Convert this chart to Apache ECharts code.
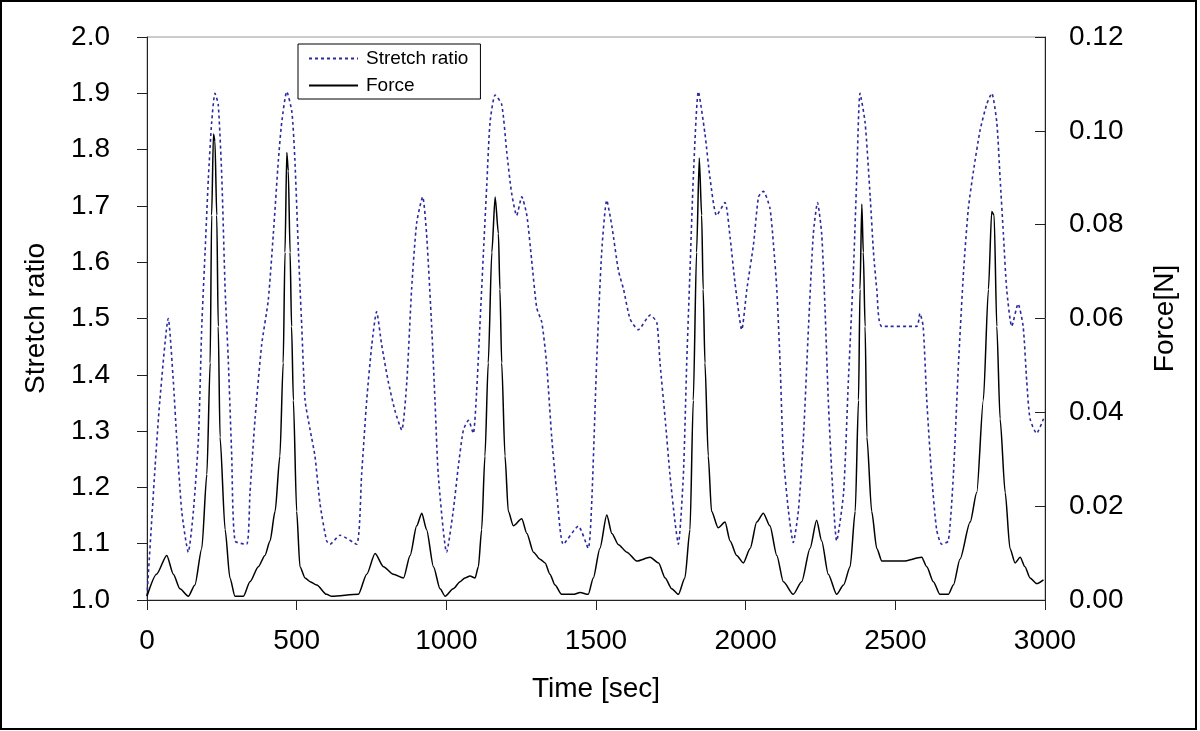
<!DOCTYPE html>
<html>
<head>
<meta charset="utf-8">
<title>Stretch ratio and force</title>
<script src="https://cdn.jsdelivr.net/npm/echarts@6/dist/echarts.min.js"></script>
<style>
  html, body { margin: 0; padding: 0; background: #fff; }
  #chart { width: 1200px; height: 731px; }
</style>
</head>
<body>
<div id="chart"></div>
<script>
// time ticks on the bottom axis
const timeTicks = [0, 500, 1000, 1500, 2000, 2500, 3000]

// stretch ratio (dotted blue)
const stretchTime = [
  0, 27, 43, 71, 88, 99, 116, 138, 155, 172, 183, 194, 205, 216, 227, 238, 250, 261, 272, 283,
  294, 333, 344, 361, 383, 405, 422, 439, 450, 467, 484, 494, 506, 517, 528, 545, 561, 578, 600, 611,
  645, 700, 717, 734, 751, 767, 784, 806, 829, 851, 868, 884, 901, 921, 934, 951, 962, 973, 1001, 1023,
  1040, 1057, 1074, 1090, 1101, 1112, 1124, 1135, 1146, 1163, 1185, 1202, 1218, 1235, 1252, 1269, 1285, 1302, 1319, 1335,
  1352, 1369, 1391, 1441, 1474, 1486, 1502, 1519, 1536, 1553, 1575, 1592, 1614, 1641, 1681, 1703, 1714, 1731, 1747, 1764,
  1775, 1792, 1803, 1814, 1825, 1842, 1864, 1881, 1903, 1931, 1948, 1964, 1987, 2004, 2026, 2043, 2059, 2081, 2093, 2104,
  2115, 2126, 2143, 2159, 2176, 2193, 2210, 2226, 2240, 2254, 2265, 2276, 2288, 2304, 2327, 2343, 2360, 2371, 2382, 2399,
  2416, 2427, 2438, 2455, 2571, 2582, 2593, 2605, 2621, 2638, 2655, 2677, 2694, 2711, 2728, 2744, 2761, 2783, 2805, 2822,
  2839, 2850, 2861, 2872, 2889, 2910, 2927, 2939, 2950, 2972, 2995
]
const stretchVal = [
  1.007, 1.237, 1.355, 1.500, 1.388, 1.289, 1.158, 1.085, 1.158, 1.289, 1.486, 1.618, 1.749, 1.848, 1.900, 1.880, 1.749, 1.552, 1.420, 1.256,
  1.105, 1.099, 1.190, 1.322, 1.453, 1.532, 1.650, 1.782, 1.848, 1.903, 1.867, 1.782, 1.618, 1.486, 1.355, 1.302, 1.256, 1.171, 1.105, 1.099,
  1.115, 1.099, 1.223, 1.355, 1.453, 1.512, 1.453, 1.388, 1.335, 1.302, 1.388, 1.552, 1.670, 1.716, 1.650, 1.486, 1.355, 1.223, 1.085, 1.158,
  1.237, 1.302, 1.319, 1.296, 1.368, 1.486, 1.618, 1.736, 1.848, 1.897, 1.880, 1.795, 1.723, 1.683, 1.716, 1.683, 1.604, 1.519, 1.493, 1.420,
  1.289, 1.190, 1.099, 1.131, 1.092, 1.177, 1.420, 1.618, 1.710, 1.664, 1.585, 1.552, 1.499, 1.480, 1.506, 1.493, 1.420, 1.322, 1.223, 1.138,
  1.099, 1.223, 1.420, 1.585, 1.749, 1.903, 1.828, 1.749, 1.683, 1.706, 1.644, 1.565, 1.480, 1.552, 1.631, 1.716, 1.726, 1.696, 1.631, 1.552,
  1.420, 1.256, 1.158, 1.102, 1.158, 1.289, 1.486, 1.650, 1.706, 1.650, 1.519, 1.355, 1.223, 1.105, 1.190, 1.388, 1.585, 1.749, 1.900, 1.848,
  1.716, 1.618, 1.552, 1.486, 1.486, 1.509, 1.486, 1.355, 1.223, 1.125, 1.099, 1.105, 1.223, 1.420, 1.585, 1.696, 1.762, 1.834, 1.880, 1.900,
  1.848, 1.749, 1.650, 1.552, 1.486, 1.526, 1.486, 1.388, 1.322, 1.296, 1.322
]

// force (solid black)
const forceTime = [
  0, 32, 66, 88, 110, 138, 160, 183, 200, 211, 216, 222, 227, 233, 238, 244, 261, 277, 294, 322,
  344, 372, 394, 411, 428, 444, 455, 461, 467, 472, 478, 483, 489, 500, 511, 528, 545, 567, 600, 617,
  706, 734, 762, 790, 823, 857, 879, 901, 918, 934, 957, 979, 996, 1023, 1046, 1062, 1079, 1096, 1107, 1118,
  1129, 1140, 1152, 1163, 1174, 1179, 1185, 1196, 1207, 1224, 1252, 1269, 1291, 1313, 1330, 1346, 1363, 1385, 1424, 1447,
  1474, 1491, 1513, 1536, 1553, 1575, 1603, 1636, 1681, 1709, 1731, 1753, 1775, 1797, 1814, 1825, 1836, 1845, 1853, 1858,
  1864, 1875, 1886, 1908, 1931, 1948, 1970, 1992, 2015, 2037, 2059, 2081, 2104, 2126, 2159, 2187, 2215, 2237, 2254, 2276,
  2304, 2327, 2349, 2366, 2377, 2382, 2388, 2393, 2399, 2405, 2421, 2438, 2455, 2527, 2588, 2605, 2627, 2649, 2677, 2694,
  2716, 2750, 2772, 2794, 2811, 2822, 2830, 2839, 2850, 2867, 2883, 2900, 2917, 2933, 2950, 2972, 2995
]
const forceVal = [
  0.0008, 0.0055, 0.0095, 0.0055, 0.0024, 0.0008, 0.0032, 0.0110, 0.0268, 0.0505, 0.0820, 0.0993, 0.0978, 0.0820, 0.0583, 0.0347, 0.0150, 0.0047, 0.0008, 0.0008,
  0.0039, 0.0071, 0.0095, 0.0126, 0.0189, 0.0307, 0.0505, 0.0741, 0.0954, 0.0915, 0.0741, 0.0583, 0.0426, 0.0189, 0.0071, 0.0047, 0.0039, 0.0032, 0.0012, 0.0008,
  0.0012, 0.0055, 0.0099, 0.0071, 0.0055, 0.0047, 0.0095, 0.0158, 0.0185, 0.0150, 0.0071, 0.0024, 0.0008, 0.0024, 0.0039, 0.0047, 0.0051, 0.0047, 0.0071, 0.0150,
  0.0307, 0.0505, 0.0741, 0.0859, 0.0781, 0.0662, 0.0505, 0.0307, 0.0189, 0.0158, 0.0173, 0.0142, 0.0102, 0.0087, 0.0079, 0.0055, 0.0032, 0.0012, 0.0012, 0.0016,
  0.0012, 0.0047, 0.0110, 0.0181, 0.0142, 0.0118, 0.0102, 0.0083, 0.0091, 0.0079, 0.0047, 0.0024, 0.0012, 0.0047, 0.0150, 0.0426, 0.0741, 0.0942, 0.0820, 0.0662,
  0.0505, 0.0307, 0.0189, 0.0154, 0.0166, 0.0126, 0.0095, 0.0079, 0.0110, 0.0166, 0.0185, 0.0158, 0.0095, 0.0039, 0.0012, 0.0039, 0.0110, 0.0170, 0.0126, 0.0055,
  0.0012, 0.0032, 0.0071, 0.0189, 0.0426, 0.0662, 0.0844, 0.0741, 0.0583, 0.0347, 0.0189, 0.0110, 0.0083, 0.0083, 0.0091, 0.0071, 0.0039, 0.0012, 0.0012, 0.0032,
  0.0087, 0.0166, 0.0229, 0.0426, 0.0662, 0.0828, 0.0820, 0.0583, 0.0386, 0.0229, 0.0110, 0.0079, 0.0091, 0.0071, 0.0047, 0.0035, 0.0043
]

const zip = (xs, ys) => xs.map((x, i) => [x, ys[i]])

const font = 'Liberation Sans, Arial, sans-serif'
const axisColor = '#222'

const chart = echarts.init(document.getElementById('chart'))

chart.setOption({
  backgroundColor: '#fff',
  animation: false,
  textStyle: { fontFamily: font },
  grid: {
    left: 147,
    right: 155,
    top: 37,
    bottom: 131,
    show: true,
    borderColor: '#999',
    borderWidth: 1
  },
  graphic: [{
    type: 'rect',
    shape: { x: 1, y: 1, width: 1195, height: 728 },
    style: { fill: 'none', stroke: '#000', lineWidth: 2 },
    silent: true
  }],
  legend: {
    orient: 'vertical',
    left: 298,
    top: 44,
    borderColor: '#000',
    borderWidth: 1,
    padding: [5, 12, 4, 10],
    itemWidth: 49,
    itemHeight: 14,
    itemGap: 8,
    itemStyle: { opacity: 0, borderWidth: 0 },
    textStyle: { fontFamily: font, fontSize: 19, color: '#000', padding: [0, 0, 0, 3] },
    data: ['Stretch ratio', 'Force']
  },
  xAxis: {
    type: 'value',
    min: 0,
    max: 3000,
    interval: 500,
    name: 'Time [sec]',
    nameLocation: 'middle',
    nameGap: 75,
    nameTextStyle: { fontFamily: font, fontSize: 28, color: '#000' },
    axisLine: { lineStyle: { color: axisColor, width: 1 } },
    axisTick: { length: 10, lineStyle: { color: axisColor } },
    axisLabel: {
      fontFamily: font, fontSize: 28, color: '#000', margin: 27,
      customValues: timeTicks,
      formatter: v => String(v)
    },
    splitLine: { show: false }
  },
  yAxis: [{
    type: 'value',
    min: 1,
    max: 2,
    interval: 0.1,
    name: 'Stretch ratio',
    nameLocation: 'middle',
    nameRotate: 90,
    nameGap: 97,
    nameTextStyle: { fontFamily: font, fontSize: 28, color: '#000' },
    axisLine: { show: true, lineStyle: { color: axisColor, width: 1 } },
    axisTick: { show: true, length: 10, lineStyle: { color: axisColor } },
    axisLabel: {
      fontFamily: font, fontSize: 28, color: '#000', margin: 37,
      formatter: v => v.toFixed(1)
    },
    splitLine: { show: false }
  }, {
    type: 'value',
    position: 'right',
    min: 0,
    max: 0.12,
    interval: 0.02,
    name: 'Force[N]',
    nameLocation: 'middle',
    nameRotate: 90,
    nameGap: 106,
    nameTextStyle: { fontFamily: font, fontSize: 28, color: '#000' },
    axisLine: { show: true, lineStyle: { color: axisColor, width: 1 } },
    axisTick: { show: true, inside: true, length: 10, lineStyle: { color: axisColor } },
    axisLabel: {
      fontFamily: font, fontSize: 28, color: '#000', margin: 24,
      formatter: v => v.toFixed(2)
    },
    splitLine: { show: false }
  }],
  series: [{
    name: 'Stretch ratio',
    type: 'line',
    yAxisIndex: 0,
    data: zip(stretchTime, stretchVal),
    showSymbol: false,
    symbol: 'none',
    smooth: 0.2,
    lineStyle: { color: '#2a2a9e', width: 1.6, type: [3, 3] },
    itemStyle: { color: '#2a2a9e' },
    z: 2
  }, {
    name: 'Force',
    type: 'line',
    yAxisIndex: 1,
    data: zip(forceTime, forceVal),
    showSymbol: false,
    symbol: 'none',
    smooth: 0.25,
    smoothMonotone: 'x',
    lineStyle: { color: '#000', width: 1.5 },
    itemStyle: { color: '#000' },
    z: 3
  }]
})
</script>
</body>
</html>
